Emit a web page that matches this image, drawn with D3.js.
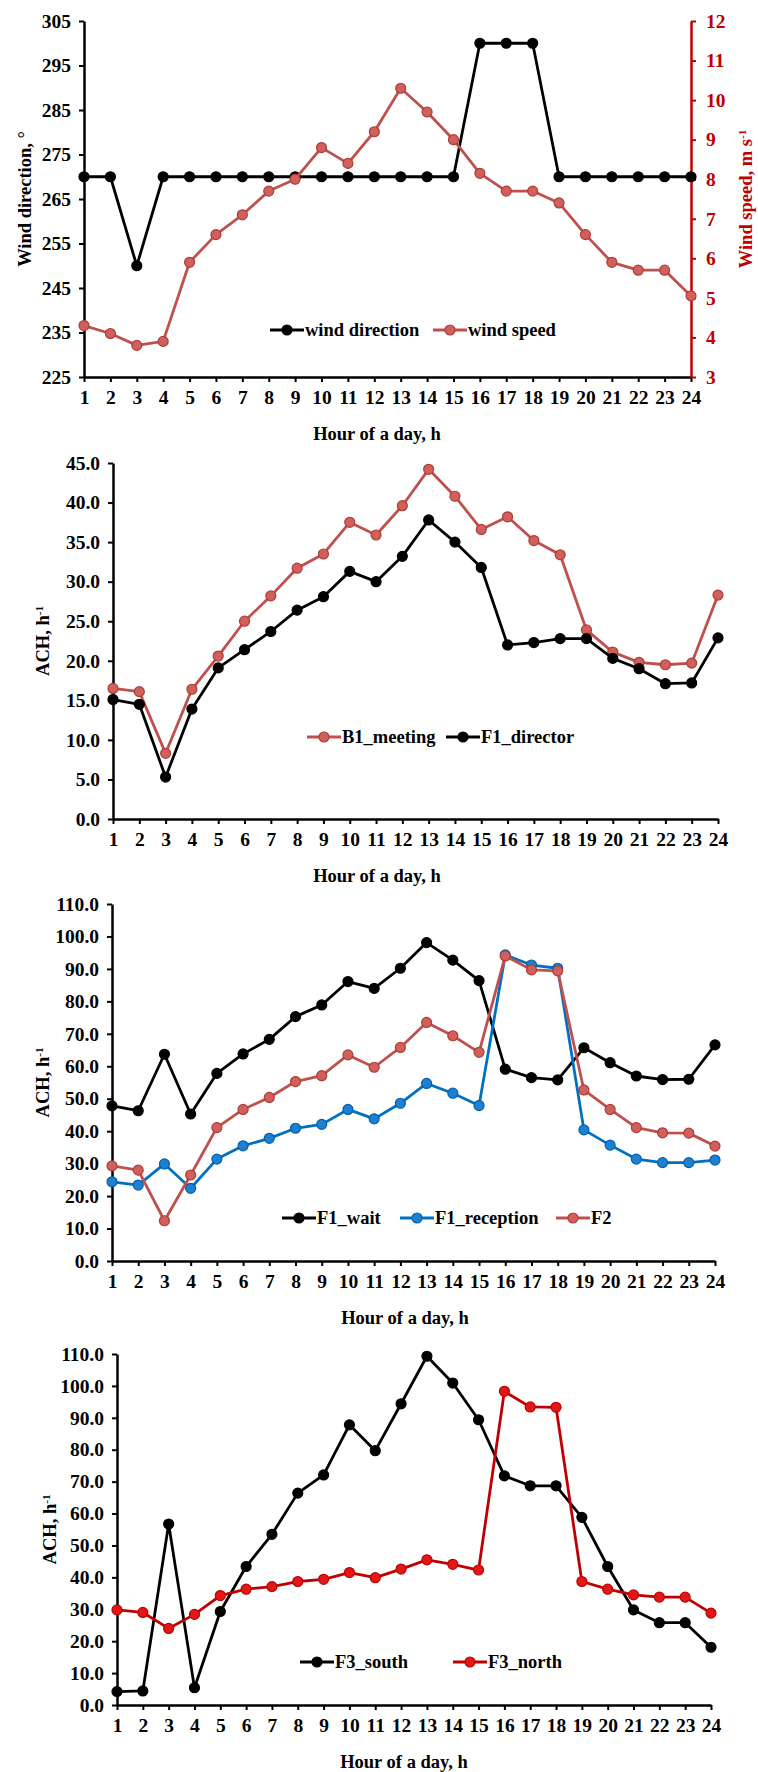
<!DOCTYPE html>
<html>
<head>
<meta charset="utf-8">
<script src="https://cdn.jsdelivr.net/npm/d3@7"></script>
<style>
  body { margin: 0; background: #fff; }
  text { font-family: "Liberation Serif", "Times New Roman", serif; font-weight: bold; }
</style>
</head>
<body>
<div id="app"></div>
<script>
// hours of the day (shared x categories)
const hours = [1, 2, 3, 4, 5, 6, 7, 8, 9, 10, 11, 12, 13, 14, 15, 16, 17, 18, 19, 20, 21, 22, 23, 24];

// panel 1: wind
const windDirection = [270, 270, 250, 270, 270, 270, 270, 270, 270, 270, 270, 270, 270, 270, 270, 300, 300, 300, 270, 270, 270, 270, 270, 270];
const windSpeed = [4.3, 4.1, 3.8, 3.9, 5.9, 6.6, 7.1, 7.7, 8.0, 8.8, 8.4, 9.2, 10.3, 9.7, 9.0, 8.15, 7.7, 7.7, 7.4, 6.6, 5.9, 5.7, 5.7, 5.05];

// panel 2
const b1Meeting = [16.5, 16.1, 8.3, 16.4, 20.6, 25.0, 28.2, 31.7, 33.5, 37.5, 35.9, 39.6, 44.2, 40.8, 36.6, 38.2, 35.2, 33.4, 23.9, 21.1, 19.8, 19.5, 19.7, 28.3];
const f1Director = [15.1, 14.5, 5.3, 13.9, 19.1, 21.4, 23.7, 26.4, 28.1, 31.3, 30.0, 33.2, 37.8, 35.0, 31.8, 22.0, 22.3, 22.8, 22.8, 20.3, 19.0, 17.1, 17.2, 22.9];

// panel 3
const f1Wait = [47.8, 46.3, 63.7, 45.3, 57.8, 63.8, 68.3, 75.3, 78.9, 86.1, 84.0, 90.2, 98.1, 92.7, 86.4, 59.1, 56.5, 55.8, 65.7, 61.1, 57.0, 55.9, 56.0, 66.6];
const f1Reception = [24.4, 23.4, 29.9, 22.4, 31.4, 35.5, 37.8, 40.9, 42.1, 46.7, 43.8, 48.6, 54.7, 51.7, 47.9, 94.3, 91.2, 90.2, 40.4, 35.7, 31.4, 30.3, 30.3, 31.1];
const f2 = [29.3, 28.0, 12.4, 26.5, 41.1, 46.7, 50.4, 55.3, 57.1, 63.5, 59.7, 65.8, 73.5, 69.4, 64.3, 94.0, 89.7, 89.4, 52.7, 46.7, 41.1, 39.5, 39.4, 35.4];

// panel 4
const f3South = [4.2, 4.4, 56.7, 5.4, 29.3, 43.4, 53.5, 66.4, 72.1, 87.8, 79.7, 94.4, 109.3, 100.9, 89.4, 71.8, 68.7, 68.7, 58.8, 43.4, 29.8, 25.8, 25.8, 18.1];
const f3North = [29.8, 29.0, 24.0, 28.4, 34.3, 36.3, 37.1, 38.7, 39.4, 41.5, 39.9, 42.6, 45.5, 44.1, 42.3, 98.3, 93.4, 93.3, 38.7, 36.3, 34.5, 33.8, 33.8, 28.8];

// tick labels
const dirTicks = [225, 235, 245, 255, 265, 275, 285, 295, 305];
const speedTicks = [3, 4, 5, 6, 7, 8, 9, 10, 11, 12];
const ach45Ticks = [0, 5, 10, 15, 20, 25, 30, 35, 40, 45];
const ach110Ticks = [0, 10, 20, 30, 40, 50, 60, 70, 80, 90, 100, 110];

const width = 758, height = 1772;
const svg = d3.select("#app").append("svg")
  .attr("width", width)
  .attr("height", height);

svg.append("rect").attr("width", width).attr("height", height).attr("fill", "#fff");

const styles = {
  black: { line: "#000", fill: "#000", stroke: "#000" },
  red: { line: "#c0504d", fill: "#d0605c", stroke: "#b03c38" },
  blue: { line: "#0070c0", fill: "#2080d0", stroke: "#0060b0" },
  brightRed: { line: "#c00000", fill: "#e01818", stroke: "#c00000" }
};

const FS = 18.5;   // titles and legend
const TFS = 19.5;  // tick labels

function styleAxis(g, color) {
  g.select(".domain").attr("stroke", color).attr("stroke-width", 2.5);
  g.selectAll(".tick line").attr("stroke", color).attr("stroke-width", 2);
  g.selectAll(".tick text").attr("fill", color).attr("font-size", TFS)
    .style("font-family", '"Liberation Serif", serif').style("font-weight", "bold");
}

function drawPanel(p) {
  const x = d3.scaleLinear().domain([1, 24]).range([p.left, p.right]);
  const y = d3.scaleLinear().domain(p.yDomain).range([p.bottom, p.top]);
  const g = svg.append("g");

  // x axis
  g.append("g")
    .attr("transform", `translate(0,${p.bottom})`)
    .call(d3.axisBottom(x).tickValues(hours).tickFormat(d3.format("d")).tickSize(5).tickSizeOuter(0).tickPadding(8))
    .call(a => styleAxis(a, "#000"));

  // left y axis
  g.append("g")
    .attr("transform", `translate(${p.left},0)`)
    .call(d3.axisLeft(y).tickValues(p.yTicks).tickFormat(d3.format(p.yFormat)).tickSize(5).tickSizeOuter(0).tickPadding(8))
    .call(a => styleAxis(a, "#000"));

  // x title
  g.append("text")
    .attr("x", p.xTitleX).attr("y", p.bottom + 57)
    .attr("text-anchor", "middle").attr("dy", "0.35em")
    .attr("font-size", FS)
    .text("Hour of a day, h");

  // y title
  const yt = g.append("text")
    .attr("transform", `translate(${p.yTitleX},${(p.top + p.bottom) / 2}) rotate(-90)`)
    .attr("text-anchor", "middle").attr("dy", "0.35em")
    .attr("font-size", FS);
  if (p.yTitle === "ACH") {
    yt.append("tspan").text("ACH, h");
    yt.append("tspan").attr("dy", "-0.55em").attr("font-size", FS * 0.6).text("-1");
  } else {
    yt.text(p.yTitle);
  }

  let y2 = null;
  if (p.y2Domain) {
    y2 = d3.scaleLinear().domain(p.y2Domain).range([p.bottom, p.top]);
    g.append("g")
      .attr("transform", `translate(${p.right},0)`)
      .call(d3.axisRight(y2).tickValues(p.y2Ticks).tickFormat(d3.format("d")).tickSize(5).tickSizeOuter(0).tickPadding(10))
      .call(a => styleAxis(a, "#c00000"));
    const t2 = g.append("text")
      .attr("transform", `translate(${p.y2TitleX},${(p.top + p.bottom) / 2}) rotate(-90)`)
      .attr("text-anchor", "middle").attr("dy", "0.35em")
      .attr("font-size", FS).attr("fill", "#c00000");
    t2.append("tspan").text("Wind speed, m s");
    t2.append("tspan").attr("dy", "-0.55em").attr("font-size", FS * 0.6).text("-1");
  }

  // series
  p.series.forEach(s => {
    const ys = s.axis === 2 ? y2 : y;
    const st = styles[s.style];
    const pts = hours.map((h, i) => [h, s.values[i]]);
    g.append("path")
      .datum(pts)
      .attr("fill", "none")
      .attr("stroke", st.line)
      .attr("stroke-width", 2.8)
      .attr("stroke-linejoin", "round")
      .attr("d", d3.line().x(d => x(d[0])).y(d => ys(d[1])));
    g.selectAll(null)
      .data(pts)
      .join("circle")
      .attr("cx", d => x(d[0]))
      .attr("cy", d => ys(d[1]))
      .attr("r", 5)
      .attr("fill", st.fill)
      .attr("stroke", st.stroke)
      .attr("stroke-width", 1.2);
  });

  // legend
  p.series.forEach((s, i) => {
    const st = styles[s.style];
    const lx = p.legendX[i], ly = p.legendY;
    g.append("line")
      .attr("x1", lx).attr("x2", lx + 34).attr("y1", ly).attr("y2", ly)
      .attr("stroke", st.line).attr("stroke-width", 2.8);
    g.append("circle")
      .attr("cx", lx + 17).attr("cy", ly).attr("r", 5)
      .attr("fill", st.fill).attr("stroke", st.stroke).attr("stroke-width", 1.2);
    g.append("text")
      .attr("x", lx + 35).attr("y", ly).attr("dy", "0.35em")
      .attr("font-size", FS)
      .text(s.name);
  });
}

drawPanel({
  left: 84, right: 691, top: 21, bottom: 377,
  yDomain: [225, 305], yTicks: dirTicks, yFormat: "d",
  y2Domain: [3, 12], y2Ticks: speedTicks, y2TitleX: 746,
  yTitle: "Wind direction, °", yTitleX: 25, xTitleX: 377,
  legendY: 330, legendX: [270, 433],
  series: [
    { name: "wind direction", values: windDirection, style: "black", axis: 1 },
    { name: "wind speed", values: windSpeed, style: "red", axis: 2 }
  ]
});

drawPanel({
  left: 113, right: 718, top: 463, bottom: 819,
  yDomain: [0, 45], yTicks: ach45Ticks, yFormat: ".1f",
  yTitle: "ACH", yTitleX: 43, xTitleX: 377,
  legendY: 737, legendX: [307, 446],
  series: [
    { name: "B1_meeting", values: b1Meeting, style: "red" },
    { name: "F1_director", values: f1Director, style: "black" }
  ]
});

drawPanel({
  left: 112, right: 715, top: 904, bottom: 1261,
  yDomain: [0, 110], yTicks: ach110Ticks, yFormat: ".1f",
  yTitle: "ACH", yTitleX: 43, xTitleX: 405,
  legendY: 1218, legendX: [282, 400, 556],
  series: [
    { name: "F1_wait", values: f1Wait, style: "black" },
    { name: "F1_reception", values: f1Reception, style: "blue" },
    { name: "F2", values: f2, style: "red" }
  ]
});

drawPanel({
  left: 117, right: 711, top: 1354, bottom: 1705,
  yDomain: [0, 110], yTicks: ach110Ticks, yFormat: ".1f",
  yTitle: "ACH", yTitleX: 50, xTitleX: 404,
  legendY: 1662, legendX: [300, 453],
  series: [
    { name: "F3_south", values: f3South, style: "black" },
    { name: "F3_north", values: f3North, style: "brightRed" }
  ]
});
</script>
</body>
</html>
